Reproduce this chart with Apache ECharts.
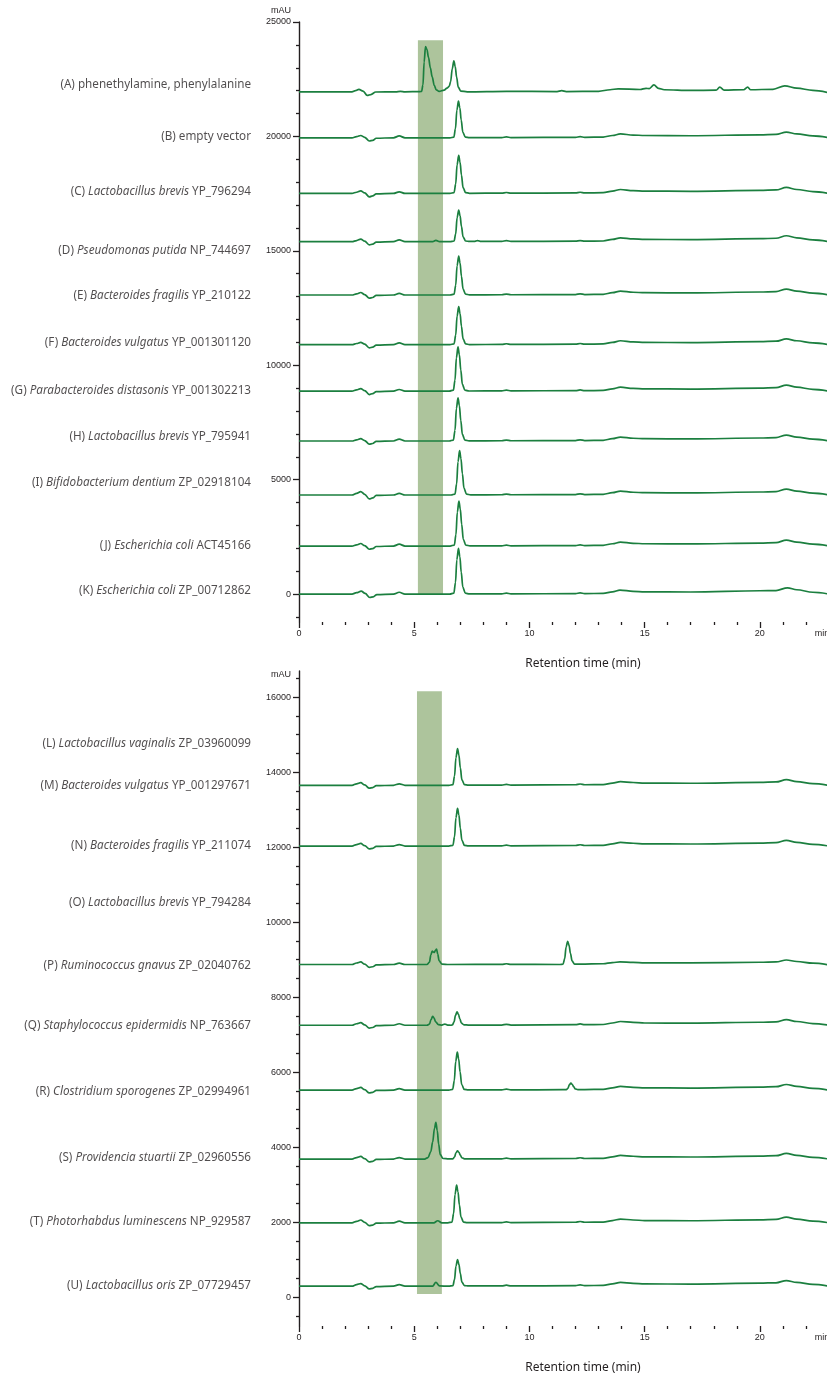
<!DOCTYPE html>
<html>
<head>
<meta charset="utf-8">
<script src="https://cdn.jsdelivr.net/npm/echarts@6/dist/echarts.min.js"></script>
<style>
  html, body { margin: 0; padding: 0; background: #fff; }
  #chart { width: 827px; height: 1374px; }
</style>
</head>
<body>
<div id="chart"></div>
<script>
// ---- data ----
// x: retention time (min), y: mAU above each trace's own baseline

// upper panel
const topNames = [
  '(A) phenethylamine, phenylalanine',
  '(B) empty vector',
  '(C) {i|Lactobacillus brevis} YP_796294',
  '(D) {i|Pseudomonas putida} NP_744697',
  '(E) {i|Bacteroides fragilis} YP_210122',
  '(F) {i|Bacteroides vulgatus} YP_001301120',
  '(G) {i|Parabacteroides distasonis} YP_001302213',
  '(H) {i|Lactobacillus brevis} YP_795941',
  '(I) {i|Bifidobacterium dentium} ZP_02918104',
  '(J) {i|Escherichia coli} ACT45166',
  '(K) {i|Escherichia coli} ZP_00712862'
];
const topLabelLevels = [22250, 20000, 17600, 15000, 13020, 10970, 8900, 6900, 4850, 2100, 130];
const topBaselines = [21950, 19940, 17510, 15400, 13070, 10900, 8870, 6690, 4330, 2100, 0];

const traceA = [[0,0],[2.3,0],[2.45,50],[2.6,110],[2.78,30],[2.96,-160],[3.12,-120],[3.33,-10],[4.2,0],[4.4,20],[4.6,0],[5.25,10],[5.32,15],[5.38,300],[5.43,1300],[5.49,1970],[5.55,1850],[5.62,1500],[5.7,1050],[5.78,650],[5.87,280],[5.96,80],[6.08,20],[6.3,70],[6.42,160],[6.52,240],[6.58,450],[6.65,1000],[6.72,1355],[6.78,1100],[6.84,640],[6.91,200],[7.02,30],[7.3,0],[9,20],[11.2,10],[11.4,50],[11.6,10],[13.0,20],[13.5,90],[13.85,130],[14.8,100],[15.06,150],[15.2,140],[15.4,300],[15.6,150],[15.85,90],[17,60],[18.1,70],[18.26,200],[18.45,70],[19.3,90],[19.47,200],[19.6,90],[20.57,110],[21.08,260],[21.6,160],[22.3,60],[23,-40]];
const traceB = [[0,0],[2.3,0],[2.5,50],[2.68,100],[2.85,20],[3.05,-140],[3.2,-110],[3.35,-20],[4.1,0],[4.35,80],[4.6,0],[6.55,0],[6.72,30],[6.79,400],[6.85,1200],[6.92,1600],[6.98,1310],[7.04,770],[7.11,240],[7.22,30],[7.4,5],[8.8,10],[9,40],[9.2,10],[12,20],[12.2,50],[12.4,20],[13.2,30],[13.6,100],[13.95,170],[14.5,120],[15,100],[17,90],[20,130],[20.7,150],[21.15,250],[21.6,170],[22.3,80],[23,0]];
const traceC = [[0,0],[2.3,0],[2.5,50],[2.68,110],[2.85,20],[3.05,-150],[3.2,-110],[3.35,-20],[4.1,0],[4.35,70],[4.6,0],[6.55,0],[6.73,35],[6.8,415],[6.86,1245],[6.93,1660],[6.99,1360],[7.05,800],[7.12,250],[7.23,35],[7.4,5],[8.8,10],[9,40],[9.2,10],[12,20],[12.2,50],[12.4,20],[13.2,30],[13.6,100],[13.95,170],[14.5,120],[15,100],[17,90],[20,130],[20.7,150],[21.15,260],[21.6,170],[22.3,80],[23,0]];
const traceD = [[0,0],[2.3,0],[2.5,50],[2.68,110],[2.85,20],[3.05,-140],[3.2,-110],[3.35,-20],[4.1,0],[4.35,80],[4.6,0],[5.8,0],[5.94,60],[6.1,0],[6.55,0],[6.73,30],[6.8,345],[6.86,1040],[6.93,1385],[6.99,1135],[7.05,665],[7.12,210],[7.23,30],[7.4,10],[7.6,10],[7.75,50],[7.9,10],[8.8,10],[9,50],[9.2,10],[12,20],[12.2,50],[12.4,20],[13.2,30],[13.6,100],[13.95,170],[14.5,120],[15,100],[17,90],[20,130],[20.7,150],[21.15,260],[21.6,170],[22.3,80],[23,0]];
const traceE = [[0,0],[2.3,0],[2.5,50],[2.68,110],[2.85,20],[3.05,-140],[3.2,-110],[3.35,-20],[4.1,0],[4.35,70],[4.6,0],[6.55,0],[6.73,35],[6.8,425],[6.86,1275],[6.93,1700],[6.99,1395],[7.05,815],[7.12,255],[7.23,35],[7.4,5],[8.8,10],[9,40],[9.2,10],[12,20],[12.2,50],[12.4,20],[13.2,30],[13.6,100],[13.95,170],[14.5,120],[15,100],[17,90],[20,130],[20.7,150],[21.15,260],[21.6,170],[22.3,80],[23,0]];
const traceF = [[0,0],[2.3,0],[2.5,50],[2.68,100],[2.85,20],[3.05,-140],[3.2,-110],[3.35,-20],[4.1,0],[4.35,80],[4.6,0],[6.55,0],[6.73,35],[6.8,415],[6.86,1245],[6.93,1660],[6.99,1360],[7.05,800],[7.12,250],[7.23,35],[7.4,5],[8.8,10],[9,40],[9.2,10],[12,20],[12.2,50],[12.4,20],[13.2,30],[13.6,100],[13.95,170],[14.5,120],[15,100],[17,90],[20,130],[20.7,150],[21.15,250],[21.6,170],[22.3,80],[23,0]];
const traceG = [[0,0],[2.3,0],[2.5,50],[2.68,110],[2.85,20],[3.05,-150],[3.2,-110],[3.35,-20],[4.1,0],[4.35,70],[4.6,0],[6.52,0],[6.7,40],[6.77,485],[6.83,1450],[6.9,1935],[6.96,1585],[7.02,930],[7.09,290],[7.2,40],[7.38,5],[8.8,10],[9,40],[9.2,10],[12,20],[12.2,50],[12.4,20],[13.2,30],[13.6,100],[13.95,170],[14.5,120],[15,100],[17,90],[20,130],[20.7,150],[21.15,260],[21.6,170],[22.3,80],[23,0]];
const traceH = [[0,0],[2.3,0],[2.5,50],[2.68,100],[2.85,20],[3.05,-140],[3.2,-110],[3.35,-20],[4.1,0],[4.35,80],[4.6,0],[6.52,0],[6.7,40],[6.77,470],[6.83,1420],[6.9,1890],[6.96,1550],[7.02,905],[7.09,285],[7.2,40],[7.38,5],[8.8,10],[9,40],[9.2,10],[12,20],[12.2,50],[12.4,20],[13.2,30],[13.6,100],[13.95,170],[14.5,120],[15,100],[17,90],[20,130],[20.7,150],[21.15,260],[21.6,170],[22.3,80],[23,0]];
const traceI = [[0,0],[2.3,0],[2.5,70],[2.68,150],[2.85,30],[3.05,-170],[3.2,-130],[3.35,-20],[4.1,0],[4.35,70],[4.6,0],[6.6,0],[6.77,40],[6.84,485],[6.9,1450],[6.97,1935],[7.03,1585],[7.09,930],[7.16,290],[7.27,40],[7.45,5],[8.8,10],[9,40],[9.2,10],[12,20],[12.2,50],[12.4,20],[13.2,30],[13.6,100],[13.95,170],[14.5,120],[15,100],[17,90],[20,130],[20.7,150],[21.15,260],[21.6,170],[22.3,80],[23,0]];
const traceJ = [[0,0],[2.3,0],[2.5,50],[2.68,110],[2.85,20],[3.05,-140],[3.2,-110],[3.35,-20],[4.1,0],[4.35,80],[4.6,0],[6.56,0],[6.74,40],[6.81,490],[6.87,1475],[6.94,1965],[7.0,1610],[7.06,945],[7.13,295],[7.24,40],[7.42,5],[8.8,10],[9,40],[9.2,10],[12,20],[12.2,50],[12.4,20],[13.2,30],[13.6,100],[13.95,170],[14.5,120],[15,100],[17,90],[20,130],[20.7,150],[21.15,260],[21.6,170],[22.3,80],[23,0]];
const traceK = [[0,0],[2.3,0],[2.5,60],[2.7,130],[2.87,30],[3.07,-150],[3.22,-120],[3.38,-20],[4.1,0],[4.35,80],[4.6,0],[6.54,0],[6.72,40],[6.79,500],[6.85,1500],[6.92,2000],[6.98,1640],[7.04,960],[7.11,300],[7.22,40],[7.4,5],[8.8,10],[9,40],[9.2,10],[12,20],[12.2,50],[12.4,20],[13.2,30],[13.6,100],[13.93,175],[14.5,120],[15,100],[17,90],[20,145],[20.7,155],[21.2,275],[21.6,190],[22.3,80],[23,0]];
const topTraces = [traceA, traceB, traceC, traceD, traceE, traceF, traceG, traceH, traceI, traceJ, traceK];

// lower panel (L and O have no trace)
const bottomNames = [
  '(L) {i|Lactobacillus vaginalis} ZP_03960099',
  '(M) {i|Bacteroides vulgatus} YP_001297671',
  '(N) {i|Bacteroides fragilis} YP_211074',
  '(O) {i|Lactobacillus brevis} YP_794284',
  '(P) {i|Ruminococcus gnavus} ZP_02040762',
  '(Q) {i|Staphylococcus epidermidis} NP_763667',
  '(R) {i|Clostridium sporogenes} ZP_02994961',
  '(S) {i|Providencia stuartii} ZP_02960556',
  '(T) {i|Photorhabdus luminescens} NP_929587',
  '(U) {i|Lactobacillus oris} ZP_07729457'
];
const bottomLabelLevels = [14770, 13650, 12030, 10510, 8830, 7230, 5490, 3730, 2000, 290];
const bottomBaselines = [null, 13650, 12030, null, 8870, 7250, 5520, 3680, 1980, 290];

const traceM = [[0,0],[2.3,0],[2.5,40],[2.68,70],[2.85,10],[3.05,-75],[3.2,-60],[3.35,-10],[4.1,0],[4.35,40],[4.6,0],[6.5,0],[6.68,20],[6.75,245],[6.81,735],[6.88,980],[6.94,805],[7.0,470],[7.07,145],[7.18,20],[7.35,5],[8.8,5],[9,25],[9.2,5],[12,15],[12.2,35],[12.4,15],[13.2,20],[13.6,60],[13.95,100],[14.5,75],[15,60],[17,55],[20,80],[20.7,90],[21.15,150],[21.6,100],[22.3,45],[23,0]];
const traceN = [[0,0],[2.3,0],[2.5,40],[2.68,70],[2.85,10],[3.05,-75],[3.2,-60],[3.35,-10],[4.1,0],[4.35,40],[4.6,0],[6.5,0],[6.68,20],[6.75,250],[6.81,755],[6.88,1005],[6.94,825],[7.0,480],[7.07,150],[7.18,20],[7.35,5],[8.8,5],[9,25],[9.2,5],[12,15],[12.2,35],[12.4,15],[13.2,20],[13.6,60],[13.95,100],[14.5,75],[15,60],[17,55],[20,80],[20.7,90],[21.15,150],[21.6,100],[22.3,45],[23,0]];
const traceP = [[0,0],[2.3,0],[2.5,40],[2.68,70],[2.85,10],[3.05,-75],[3.2,-60],[3.35,-10],[4.1,0],[4.35,35],[4.6,0],[5.55,0],[5.66,60],[5.72,250],[5.78,355],[5.83,335],[5.87,320],[5.92,380],[5.97,410],[6.02,280],[6.08,100],[6.2,10],[6.5,0],[8.8,5],[9,20],[9.2,5],[11.3,0],[11.46,10],[11.53,155],[11.59,465],[11.66,620],[11.72,510],[11.78,300],[11.85,95],[11.96,10],[12.2,10],[13.2,20],[13.6,50],[13.93,70],[14.5,55],[15,45],[17,45],[20,60],[20.7,70],[21.15,120],[21.6,80],[22.3,35],[23,-10]];
const traceQ = [[0,0],[2.3,0],[2.5,40],[2.68,70],[2.85,10],[3.05,-75],[3.2,-60],[3.35,-10],[4.1,0],[4.35,40],[4.6,0],[5.55,0],[5.66,30],[5.73,150],[5.8,240],[5.86,190],[5.93,90],[6.05,15],[6.2,5],[6.33,30],[6.45,5],[6.6,0],[6.66,10],[6.73,90],[6.79,265],[6.86,355],[6.92,290],[6.98,170],[7.05,55],[7.16,10],[7.35,5],[8.8,5],[9,25],[9.2,5],[12,15],[12.2,35],[12.4,15],[13.2,20],[13.6,60],[13.95,100],[14.5,75],[15,60],[17,55],[20,80],[20.7,90],[21.15,150],[21.6,100],[22.3,45],[23,0]];
const traceR = [[0,0],[2.3,0],[2.5,40],[2.68,70],[2.85,10],[3.05,-75],[3.2,-60],[3.35,-10],[4.1,0],[4.35,40],[4.6,0],[6.5,0],[6.67,20],[6.74,255],[6.8,760],[6.87,1013],[6.93,830],[6.99,485],[7.06,150],[7.17,20],[7.35,8],[8.8,5],[9,25],[9.2,5],[11.45,10],[11.6,10],[11.67,45],[11.73,140],[11.8,185],[11.86,150],[11.92,90],[11.99,30],[12.1,10],[12.4,15],[13.2,20],[13.6,60],[13.95,100],[14.5,75],[15,60],[17,55],[20,80],[20.7,90],[21.15,150],[21.6,100],[22.3,45],[23,0]];
const traceS = [[0,0],[2.3,0],[2.5,40],[2.68,70],[2.85,10],[3.05,-75],[3.2,-60],[3.35,-10],[4.1,0],[4.35,40],[4.6,0],[5.45,0],[5.6,40],[5.72,200],[5.8,450],[5.88,820],[5.94,980],[6.0,760],[6.06,400],[6.13,120],[6.25,15],[6.5,5],[6.68,5],[6.75,55],[6.81,165],[6.88,220],[6.94,180],[7.0,105],[7.07,35],[7.18,5],[8.8,5],[9,25],[9.2,5],[12,15],[12.2,35],[12.4,15],[13.2,20],[13.6,60],[13.95,100],[14.5,75],[15,60],[17,55],[20,80],[20.7,90],[21.15,150],[21.6,100],[22.3,45],[23,0]];
const traceT = [[0,0],[2.3,0],[2.5,40],[2.68,75],[2.85,10],[3.05,-75],[3.2,-60],[3.35,-10],[4.1,0],[4.35,45],[4.6,0],[5.85,0],[6.02,55],[6.2,0],[6.46,0],[6.64,20],[6.71,250],[6.77,755],[6.84,1005],[6.9,825],[6.96,480],[7.03,150],[7.14,20],[7.3,5],[8.8,5],[9,25],[9.2,5],[12,15],[12.2,35],[12.4,15],[13.2,20],[13.6,60],[13.95,100],[14.5,75],[15,60],[17,55],[20,80],[20.7,90],[21.15,150],[21.6,100],[22.3,45],[23,0]];
const traceU = [[0,0],[2.3,0],[2.5,40],[2.68,70],[2.85,10],[3.05,-75],[3.2,-60],[3.35,-10],[4.1,0],[4.35,40],[4.6,0],[5.8,0],[5.94,100],[6.1,5],[6.5,0],[6.68,15],[6.75,180],[6.81,530],[6.88,710],[6.94,580],[7.0,340],[7.07,105],[7.18,15],[7.35,5],[8.8,5],[9,25],[9.2,5],[12,15],[12.2,35],[12.4,15],[13.2,20],[13.6,60],[13.95,100],[14.5,75],[15,60],[17,55],[20,80],[20.7,90],[21.15,150],[21.6,100],[22.3,45],[23,0]];
const bottomTraces = [null, traceM, traceN, null, traceP, traceQ, traceR, traceS, traceT, traceU];

// shaded retention window [t0, t1] and its vertical extent
const topBand = [5.16, 6.25, 0, 24200];
const bottomBand = [5.12, 6.2, 80, 16160];

// axis ticks
const xMajorTicks = [0, 5, 10, 15, 20];
const xLabelTicks = [0, 5, 10, 15, 20, 22.7];
const xMinorTicks = [1, 2, 3, 4, 6, 7, 8, 9, 11, 12, 13, 14, 16, 17, 18, 19, 21, 22];
const topYMajor = [0, 5000, 10000, 15000, 20000, 25000];
const topYMinor = [-1000, 1000, 2000, 3000, 4000, 6000, 7000, 8000, 9000, 11000, 12000, 13000, 14000,
  16000, 17000, 18000, 19000, 21000, 22000, 23000, 24000];
const bottomYMajor = [0, 2000, 4000, 6000, 8000, 10000, 12000, 14000, 16000];
const bottomYMinor = [-500, 500, 1000, 1500, 2500, 3000, 3500, 4500, 5000, 5500, 6500, 7000, 7500,
  8500, 9000, 9500, 10500, 11000, 11500, 12500, 13000, 13500, 14500, 15000, 15500, 16500];

// ---- chart ----
const LINE = '#1b7f3f';
const BAND = '#adc49c';
const INK = '#231f20';
const LABEL_FONT = '"Noto Sans", sans-serif';
const TICK_FONT = '"Liberation Sans", Arial, sans-serif';

const chart = echarts.init(document.getElementById('chart'));

function xAxes(gridIndex) {
  return [
    {
      gridIndex, type: 'value', min: 0, max: 23, position: 'bottom',
      axisLine: { show: false, onZero: false },
      splitLine: { show: false },
      axisTick: { customValues: xMajorTicks, length: 6, lineStyle: { color: INK, width: 1.3 } },
      axisLabel: {
        customValues: xLabelTicks, margin: 7, fontSize: 9, color: INK, fontFamily: TICK_FONT,
        formatter: v => (v > 21 ? 'min' : String(v))
      },
      name: 'Retention time (min)', nameLocation: 'middle', nameGap: 36,
      nameTextStyle: { fontSize: 12, color: INK, fontFamily: LABEL_FONT, padding: [0, 0, 0, 38] }
    },
    {
      gridIndex, type: 'value', min: 0, max: 23, position: 'bottom',
      axisLine: { show: false, onZero: false }, splitLine: { show: false },
      axisTick: { customValues: xMinorTicks, length: 3, lineStyle: { color: INK, width: 1.3 } },
      axisLabel: { show: false }
    }
  ];
}

function yAxes(gridIndex, min, max, major, minor, nameGap) {
  return [
    {
      gridIndex, type: 'value', min, max, position: 'left',
      axisLine: { show: true, onZero: false, lineStyle: { color: INK, width: 1.4 } },
      splitLine: { show: false },
      axisTick: { customValues: major, length: 6, lineStyle: { color: INK, width: 1.3 } },
      axisLabel: {
        customValues: major, margin: 8, fontSize: 9, color: INK, fontFamily: TICK_FONT,
        formatter: v => String(v)
      },
      name: 'mAU', nameLocation: 'end', nameGap,
      nameTextStyle: { fontSize: 9, color: INK, fontFamily: TICK_FONT, align: 'right', verticalAlign: 'middle', padding: [0, 8, 0, 0] }
    },
    {
      gridIndex, type: 'value', min, max, position: 'left',
      axisLine: { show: false, onZero: false }, splitLine: { show: false },
      axisTick: { customValues: minor, length: 3, lineStyle: { color: INK, width: 1.3 } },
      axisLabel: { show: false }
    }
  ];
}

function panelSeries(traces, baselines, names, levels, band, xi, yi) {
  const out = [];
  out.push({
    type: 'line', xAxisIndex: xi, yAxisIndex: yi, data: [], z: 1, silent: true,
    markArea: {
      silent: true,
      itemStyle: { color: BAND, opacity: 1 },
      data: [[{ xAxis: band[0], yAxis: band[2] }, { xAxis: band[1], yAxis: band[3] }]]
    }
  });
  traces.forEach((tr, i) => {
    if (!tr) return;
    out.push({
      type: 'line', xAxisIndex: xi, yAxisIndex: yi, z: 3,
      data: tr.map(p => [p[0], baselines[i] + p[1]]),
      showSymbol: false, smooth: 0.35, smoothMonotone: 'x',
      lineStyle: { color: LINE, width: 1.7 }
    });
  });
  out.push({
    type: 'scatter', xAxisIndex: xi, yAxisIndex: yi, symbolSize: 0, silent: true,
    data: levels.map(v => [0, v]),
    label: {
      show: true, position: 'left', distance: 48,
      fontSize: 11.7, fontFamily: LABEL_FONT, color: INK,
      formatter: p => names[p.dataIndex],
      rich: { i: { fontSize: 11.7, fontFamily: LABEL_FONT, color: INK, fontStyle: 'italic' } }
    }
  });
  return out;
}

chart.setOption({
  animation: false,
  backgroundColor: '#fff',
  grid: [
    { left: 299, right: -2, top: 22, height: 600, outerBoundsMode: 'none', containLabel: false },
    { left: 299, right: -2, top: 671, height: 655, outerBoundsMode: 'none', containLabel: false }
  ],
  xAxis: [...xAxes(0), ...xAxes(1)],
  yAxis: [
    ...yAxes(0, -1220, 25000, topYMajor, topYMinor, 11),
    ...yAxes(1, -773, 16700, bottomYMajor, bottomYMinor, -4)
  ],
  series: [
    ...panelSeries(topTraces, topBaselines, topNames, topLabelLevels, topBand, 0, 0),
    ...panelSeries(bottomTraces, bottomBaselines, bottomNames, bottomLabelLevels, bottomBand, 2, 2)
  ]
});
</script>
</body>
</html>
